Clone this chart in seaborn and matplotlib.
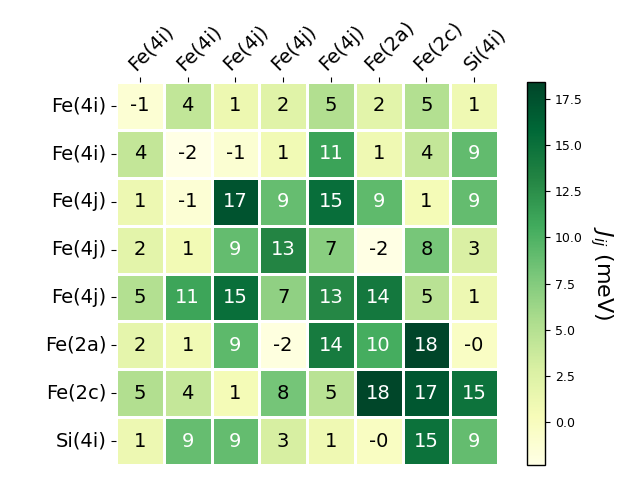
import numpy as np
import pandas as pd
import matplotlib
matplotlib.use("Agg")
import matplotlib.pyplot as plt
import matplotlib.transforms as mtransforms
import seaborn as sns

labels = ["Fe(4i)", "Fe(4i)", "Fe(4j)", "Fe(4j)", "Fe(4j)", "Fe(2a)", "Fe(2c)", "Si(4i)"]

row0 = [-1.2, 4.3, 1.2, 2.3, 5.2, 2.1, 5.1, 1.0]
row1 = [4.2, -2.3, -1.1, 0.8, 11.2, 1.0, 4.2, 9.1]
row2 = [1.1, -1.3, 17.3, 8.9, 15.2, 9.2, 0.6, 9.0]
row3 = [2.0, 0.7, 9.0, 13.2, 7.2, -2.2, 8.1, 2.8]
row4 = [5.1, 11.0, 15.1, 6.9, 13.0, 14.3, 4.8, 1.1]
row5 = [1.9, 0.8, 9.3, -1.9, 14.1, 10.4, 18.4, -0.3]
row6 = [5.2, 4.1, 0.6, 8.2, 4.8, 18.3, 17.1, 14.8]
row7 = [1.1, 8.9, 9.0, 3.0, 1.0, -0.2, 14.9, 9.0]

data = np.array([row0, row1, row2, row3, row4, row5, row6, row7])
df = pd.DataFrame(data, index=labels, columns=labels)

fig = plt.figure(figsize=(6.4, 4.8), dpi=100)
ax = fig.add_axes([116/640, 1 - 465/480, 382/640, 383/480])
cax = fig.add_axes([527/640, 1 - 465/480, 18/640, 383/480])
hm = sns.heatmap(df, ax=ax, cbar_ax=cax, cmap="YlGn", annot=True, fmt=".0f",
                 annot_kws={"fontsize": 14}, linewidths=2, linecolor="white",
                 cbar=True)
for t in ax.texts:
    if t.get_color() not in ("w", "white", "#ffffff"):
        t.set_color("black")
ax.xaxis.tick_top()
ax.set_xticklabels(labels, rotation=45, fontsize=14, ha="center")
ax.set_yticklabels(labels, rotation=0, fontsize=14)
shift = mtransforms.ScaledTranslation(11/100, -2/100, fig.dpi_scale_trans)
for t in ax.get_xticklabels():
    t.set_transform(t.get_transform() + shift)
cbar = hm.collections[0].colorbar
cbar.ax.tick_params(labelsize=9)
cbar.set_label(r"$J_{ij}$ (meV)", rotation=270, fontsize=16, labelpad=23)
cbar.outline.set_visible(True)
cbar.outline.set_edgecolor("black")
cbar.outline.set_linewidth(1)

fig.savefig("out.png", dpi=100)
